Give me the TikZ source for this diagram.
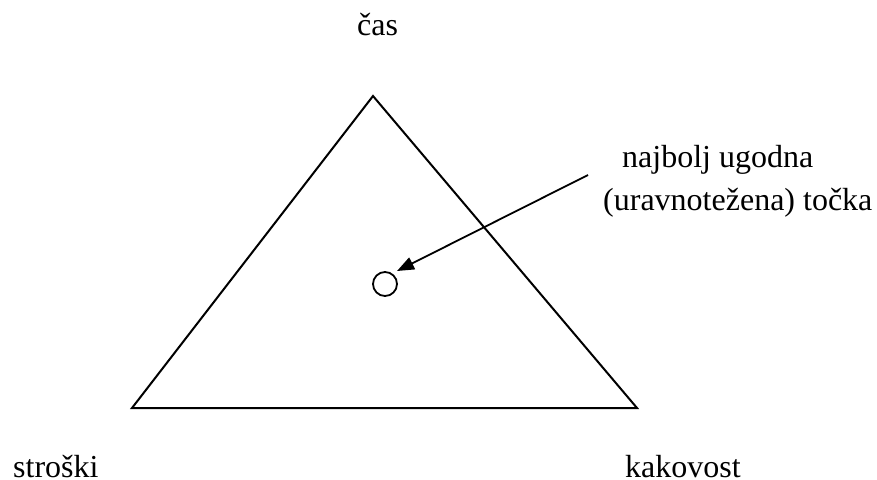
\documentclass[tikz,border=0pt]{standalone}
\usepackage{fontspec}
\setmainfont{Liberation Serif}
\usetikzlibrary{arrows.meta}
\begin{document}
\begin{tikzpicture}[x=1pt,y=-1pt,
  lbl/.style={anchor=base west,inner sep=0pt,font=\fontsize{32}{38}\selectfont},
  edge/.style={line width=2pt,line join=miter},
  pointer/.style={line width=1.8pt,-{Triangle[length=17pt,width=13pt]}}]
\useasboundingbox (0,0) rectangle (877,479);
\coordinate (top) at (373,96);
\coordinate (bl) at (132,408);
\coordinate (br) at (637,408);
\draw[edge] (top) -- (bl) -- (br) -- cycle;
\node[circle,draw,line width=1.8pt,minimum size=24pt,inner sep=0pt] (pt) at (385,284) {};
\coordinate (from) at (588,175);
\coordinate (tip) at (397,271);
\draw[pointer] (from) -- (tip);
\node[lbl] (cas) at (357,35) {čas};
\node[lbl] (n1) at (622,167) {najbolj ugodna};
\node[lbl] (n2) at (603,210) {(uravnotežena) točka};
\node[lbl] (st) at (13,477) {stroški};
\node[lbl] (ka) at (625,477) {kakovost};
\end{tikzpicture}
\end{document}
